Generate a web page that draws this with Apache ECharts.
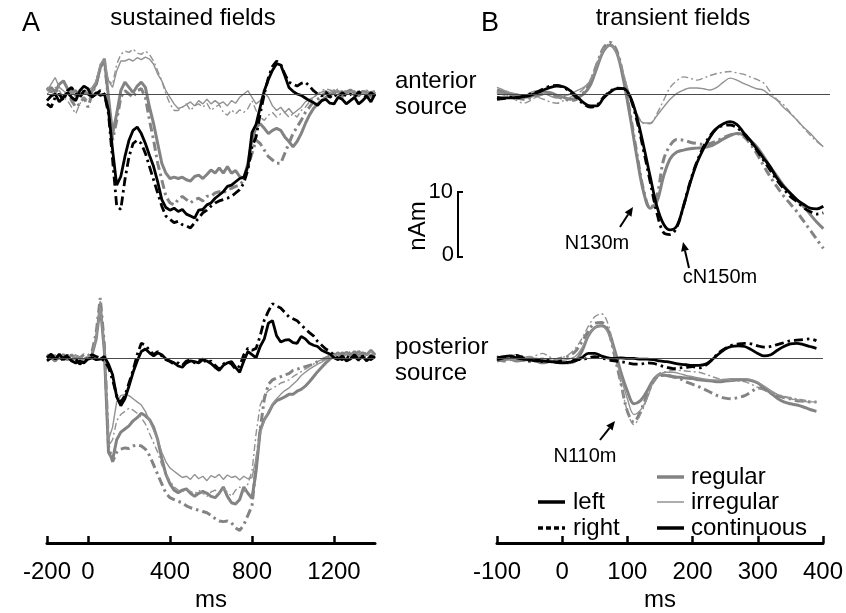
<!DOCTYPE html>
<html>
<head>
<meta charset="utf-8">
<script src="https://cdn.jsdelivr.net/npm/echarts@6/dist/echarts.min.js"></script>
<style>
html, body { margin: 0; padding: 0; background: #fff; }
#main { width: 846px; height: 613px; }
</style>
</head>
<body>
<div id="main"></div>
<script>
// time bases (ms)
var timeA = [-200,-180,-160,-140,-120,-100,-80,-60,-40,-20,
	0,20,40,60,80,100,120,140,160,180,
	200,220,240,260,280,300,320,340,360,380,
	400,420,440,460,480,500,520,540,560,580,
	600,620,640,660,680,700,720,740,760,780,
	800,820,840,860,880,900,920,940,960,980,
	1000,1020,1040,1060,1080,1100,1120,1140,1160,1180,
	1200,1220,1240,1260,1280,1300,1320,1340,1360,1380,1400];
var timeB = [-100,-90,-80,-70,-60,-50,-40,-30,-20,-10,
	0,10,20,30,40,50,60,70,80,90,
	100,110,120,130,140,150,160,170,180,190,
	200,210,220,230,240,250,260,270,280,290,
	300,310,320,330,340,350,360,370,380,390];

// A: sustained fields, anterior source (nAm)
var antRegL = [0.5,1,0.3,1.5,2,0.8,0.2,0.5,-0.3,0.2,
	0,0.5,1.5,4,5.3,-0.5,-6,-3,0.5,1.8,
	1,0.2,1.2,1.8,1,-2,-4.5,-7.5,-10.5,-12,
	-12.8,-12.6,-12.8,-12.6,-13,-13.2,-12.5,-12.3,-12.8,-12.2,
	-11.5,-12,-11.2,-12,-11,-12,-11.6,-12.5,-12.8,-10.5,
	-7,-5,-4.5,-5.2,-6,-5.5,-5.2,-5.5,-6.5,-7.2,
	-8,-7.2,-6,-4.5,-3.2,-2.2,-1.5,-1,-0.5,-0.2,
	0.2,0.4,-0.2,0.3,0.6,0.2,-0.3,0.4,0.2,-0.4,0.3];
var antRegR = [1,0.3,0.8,0,-0.5,0.5,-1,-2,-1.5,-0.5,
	-2,0,1.5,4,5,-1,-7,-4,-0.5,0.5,
	0,-0.5,0.5,0.8,-0.5,-4,-7,-10.5,-13,-15.5,
	-16.5,-16.8,-16,-15.5,-16,-16.5,-16,-15.8,-16.2,-15.5,
	-15.5,-15,-14.8,-15,-14.5,-14.3,-14,-13.8,-13,-11,
	-9,-7,-7.5,-8.5,-9.5,-10,-10.5,-10.5,-9,-7.5,
	-6,-5,-4,-2.8,-2,-1.2,-0.8,-0.3,0.2,0,
	0.5,0,-0.4,0.3,0.5,-0.2,0.3,0.6,-0.3,0.2,0.4];
var antIrrL = [0.5,1.5,2.5,1,0.5,0,0.5,-0.5,0,0.3,
	0.5,1,2,4.5,5.2,2,1,3.5,5,5,
	5.3,5,5.5,5.2,5.6,5.3,4.5,3,2,0.5,
	-0.5,-1.5,-2.2,-2,-1.6,-1.2,-1.8,-1,-1.5,-0.8,
	-1.5,-1,-1.5,-1.2,-1.8,-1,-1.4,-0.5,0,0.5,
	-0.5,-1.5,-1,0.2,-0.5,-1.8,-2.5,-2,-2.8,-2.2,
	-3,-2.5,-2,-1.2,-0.8,-0.5,0,0.3,0.5,0.2,
	0.6,0.2,0.5,0,0.3,0.5,-0.2,0.3,0,0.4,0.2];
var antIrrR = [0,0.5,1,0.5,-0.5,-1,-2,-3,-1.5,-0.5,
	-1,0,2,4.5,5.5,2,1.5,4.5,6,6.5,
	6.3,6.8,6.2,6,6.5,6,5,3.5,2,0,
	-1.5,-2.5,-2.5,-2,-1.5,-2.5,-1.8,-1.5,-2,-1.4,
	-2.5,-2,-1.6,-2.8,-3.2,-2.4,-3,-2.4,-2.8,-2.2,
	-1,-2.5,-3.5,-4,-3.2,-2.8,-3.5,-3,-2.8,-3.5,
	-3,-3.5,-2.5,-2,-1.2,-0.6,0,0.5,0.8,0.6,
	0.4,0.8,0.2,0.6,0.3,0,0.5,0.2,0.6,0,0.3];
var antConL = [-1,-0.3,0,-1.2,-0.5,0.2,-0.5,-1,0.5,1.2,
	0.8,-0.5,0.2,-0.2,0,-2.5,-8.5,-13.8,-12.5,-9.5,
	-7,-5.5,-5,-6,-7.5,-9.3,-11,-13.3,-16,-17.2,
	-17.6,-17.3,-17.8,-17.5,-18.2,-18.5,-18.8,-17.6,-17.5,-16.8,
	-16.5,-15.8,-15.3,-14.8,-14,-13.8,-13.3,-12.8,-12.6,-11,
	-5.8,-4.6,-2,0.5,2.2,3.6,4.6,4.4,2.8,1,
	0.4,0,-0.2,-0.6,-1,-1.3,-1.7,-1,-0.8,-1.4,
	-1.5,-0.5,-0.8,-1.5,-1,-0.5,-1.5,-1,-0.3,-1.2,0];
var antConR = [-1.5,-2,-0.5,0,-1,0.5,1,0,-0.5,0.5,
	0,-0.5,0,0.5,0,-3,-10,-17,-17.5,-13,
	-9.5,-7.5,-7,-7.5,-9,-11,-13,-15,-17,-18.5,
	-19,-19.5,-19.3,-19.8,-20,-20.3,-19.5,-18.8,-18,-17.6,
	-17,-16.5,-16.2,-16,-15.8,-15.5,-15,-14.5,-13.5,-11.5,
	-8,-6.5,-3,0,2.5,4.2,5,4.5,3,1.8,
	1.5,1.2,1.6,1.8,1.2,0.5,0,-0.3,0.3,-0.5,
	0,-0.5,0.2,-0.3,0,-0.5,0.3,0,-0.5,0.2,-0.3];

// A: sustained fields, posterior source (nAm)
var posRegL = [0.5,0,-0.5,0.3,0,-0.3,0.5,-0.2,0,-0.3,
	0,0.5,3,8.3,1,-15,-16.2,-13,-11.8,-11.3,
	-10.8,-10,-9.5,-8.8,-9.2,-9.8,-11,-13,-16,-18.5,
	-20,-21,-21.4,-21,-20.8,-21.5,-22,-21.5,-21.2,-21.5,
	-22,-22.2,-21.5,-20.5,-22,-23,-23.2,-22.5,-20.5,-21.5,
	-22.3,-18,-11.5,-9.8,-8.8,-7.5,-6.8,-6.5,-6.2,-5.8,
	-5.8,-5.3,-5,-4.5,-3.8,-3,-2.2,-1.5,-0.8,-0.2,
	0.3,0.8,0.2,0.9,0.4,1,0.3,0.8,0.5,1.2,0.5];
var posRegR = [0,0.5,-0.3,0,0.5,0,-0.5,0.3,0,0.5,
	0.3,1,4,9.5,2,-14,-16.5,-15,-14.5,-14.3,
	-14.4,-14,-13.8,-14,-14.5,-15.5,-17,-18.5,-20,-21.5,
	-22.2,-22.5,-22.8,-23,-23.5,-23.8,-24,-24.2,-24.4,-24.6,
	-25,-25.5,-25.9,-26,-25.9,-26.2,-27,-27.4,-26.5,-25,
	-23.5,-17,-11.4,-6.5,-4.2,-3.5,-3.2,-3,-2.7,-2.5,
	-2,-1.8,-1.6,-1.4,-1.2,-1,-0.6,-0.3,0,0.3,
	0.6,0.2,0.8,0.3,0.9,0.4,1,0.5,0.8,0.3,0.7];
var posIrrL = [0.3,0,0.5,-0.2,0.2,0,-0.3,0.4,0.2,-0.5,
	0,0.5,3,8,1,-13,-11,-7,-6,-5.8,
	-6,-6.5,-7,-7.5,-8.5,-10,-11.5,-13,-15,-16.5,
	-17.5,-18,-18.5,-19,-18.8,-19.3,-18.5,-19.2,-18.8,-19.5,
	-18.7,-19,-18.5,-19.3,-18.6,-19,-18.8,-19.4,-18.8,-19.2,
	-19,-16,-12,-10,-8.5,-7.3,-6.5,-5.8,-5.2,-4.8,
	-4.2,-3.6,-2.8,-2.3,-1.8,-1.4,-1,-0.7,-0.3,0,
	0.3,0.6,0.1,0.7,0.2,0.8,0.2,0.6,0.4,1,0.3];
var posIrrR = [0,0.3,0,-0.4,0.3,0.2,0,0.5,-0.3,0,
	0.2,0.6,3.5,9,2,-14,-13,-10,-9,-8.5,
	-8,-8.3,-8.8,-9.5,-10.5,-12,-13.5,-15,-17,-18.5,
	-19.5,-20.5,-21,-21.3,-20.8,-21.2,-21.6,-21,-21.5,-22,
	-21.3,-21,-21.5,-20.8,-21.3,-22,-21,-20.5,-21.3,-20,
	-18,-12,-7.5,-6,-5.2,-4.8,-4.5,-4,-3.8,-3.5,
	-3,-2.6,-2.2,-1.8,-1.4,-1,-0.6,-0.3,0,0.4,
	0.2,0.6,0,0.5,0.2,0.7,0.3,0.5,0,0.4,0.2];
var posConL = [0,0.6,-0.2,0.6,-0.3,0.2,-0.5,-0.8,-0.5,-0.8,
	-0.2,0,-0.3,-0.2,0.2,-1,-2.7,-6.2,-7.6,-6.5,
	-4.5,-2.3,-0.5,1,1.4,0.8,0.3,0.8,0.5,-0.2,
	-0.5,-0.8,-1.3,-1.5,-0.8,-0.5,-0.6,-0.8,-0.3,-0.5,
	-0.9,-1.5,-2,-1.2,-0.8,-0.6,-1.5,-2.3,-0.5,1,
	0.5,0,1.8,3,5.5,5.9,3.5,2.5,2.8,2.9,
	2.4,2.3,3.4,3,2.3,2,1.8,1.2,0.9,0.6,
	0,-0.3,0.3,-0.5,-0.2,0.5,-0.3,0.2,-0.5,0.3,0];
var posConR = [-0.5,0,0.5,-0.5,0,0.4,-0.4,-0.2,-1,-0.5,
	0,0.5,0.2,0,-0.5,-1.5,-3.5,-6,-7,-6,
	-4,-2,0.5,2.3,2,1.2,0.5,1,0.3,-0.3,
	-0.6,-1,-0.8,-1.2,-0.5,-0.3,-0.8,-0.5,-0.2,-0.8,
	-0.5,-1.2,-1.8,-1,-0.6,-1,-1.8,-1.3,0.5,1.5,
	1.2,1.5,3.5,6,7.4,8.6,8.2,7.9,7.2,6.5,
	6.2,5.9,5.2,4.6,4,3.5,2.6,2,1.4,1,
	0.4,0,-0.3,0.3,-0.2,0.2,-0.4,0.3,0,-0.3,0.2];

// B: transient fields, anterior source (nAm)
var bAntRegL = [0.6,0.3,0,-0.3,-0.5,-0.4,0,0.3,0.2,-0.2,
	-0.5,-0.8,-0.6,0,1.3,4,6.5,7.4,6.2,2.1,
	-3.5,-9.5,-14.8,-17.3,-16.3,-12.5,-9.8,-8.8,-8.5,-8.3,
	-8.2,-8.1,-7.9,-7.4,-6.8,-6.3,-6,-6.2,-7,-8,
	-9.4,-11,-12.4,-13.8,-15,-16,-17,-18.2,-19.4,-20.4];
var bAntRegR = [0.3,0,-0.3,-0.6,-0.8,-0.6,-0.3,0,0,-0.4,
	-0.7,-1,-0.8,0.2,1.8,4.5,7,7.8,6.5,2.5,
	-3,-9,-14.5,-17.3,-15.5,-10,-7.8,-6.9,-7,-7.3,
	-7.5,-7.6,-7.5,-7.1,-6.6,-6.2,-6,-6.4,-7.5,-9,
	-10.8,-12.5,-14,-15.4,-16.6,-17.8,-19.2,-20.6,-22,-23.4];
var bAntIrrL = [1,0.6,0.2,0,-0.3,0.2,0.5,0.2,-0.3,-0.6,
	-0.3,0,0.5,1,2,4.2,6.6,7.3,6,3,
	-0.5,-3,-4.4,-4.4,-3.3,-2,-0.8,0.1,0.6,0.9,
	0.9,0.8,0.6,1,1.8,2.4,2.1,1.6,1.2,0.8,
	0.6,-0.2,-0.9,-2,-2.9,-3.9,-5,-5.9,-7,-8];
var bAntIrrR = [0.3,0,-0.5,-1,-1.4,-1,-0.5,-0.8,-1.2,-1.4,
	-1,-0.5,0,0.8,2.2,4.8,7,7.6,6.3,3,
	-0.5,-3,-4.4,-4.5,-3,-1,1,2,2.6,2.4,
	2.1,2.4,2.8,3.1,3.3,3.4,3.2,3,2.6,2.2,
	1.7,0.4,-0.8,-1.6,-2.8,-3.9,-5.1,-6.2,-7.2,-8];
var bAntConL = [-0.5,-0.6,-0.6,-0.5,-0.4,-0.2,0.2,0.6,1,1.2,
	1.1,0.5,-0.4,-1.3,-1.8,-1.8,-0.6,0.3,0.8,0.8,
	-0.4,-3.5,-7.8,-12.5,-17,-19.7,-20.6,-20,-17,-13.5,
	-10.5,-8.3,-6.5,-5.2,-4.5,-4.2,-4.6,-5.8,-7,-8.3,
	-9.7,-11,-12.7,-14,-15,-16,-16.7,-17.3,-17.4,-17];
var bAntConR = [-0.8,-0.7,-0.5,-0.6,-0.3,0,0.3,0.8,1.2,1.3,
	1,0.3,-0.6,-1.5,-2,-1.7,-0.5,0.4,0.9,0.8,
	-0.6,-4,-8.5,-13.3,-18,-21,-21.3,-20.2,-17,-13.3,
	-10.3,-8,-6.3,-5.2,-4.8,-4.7,-5.1,-6,-7.2,-8.5,
	-10,-11.5,-13,-14.3,-15.5,-16.3,-17.2,-17.8,-18.2,-18];

// B: transient fields, posterior source (nAm)
var bPosRegL = [-0.5,-0.3,-0.2,-0.5,-0.4,-0.2,-0.5,-0.8,-0.6,-0.5,
	-0.6,-0.8,-0.5,1,3.5,4.8,5.1,4.4,1.4,-2.3,
	-5.3,-7.3,-6.8,-5.3,-3.5,-2.7,-2.8,-3,-3.1,-3.2,
	-3.3,-3.5,-3.6,-3.7,-3.8,-3.7,-3.6,-3.5,-3.5,-3.6,
	-4,-4.8,-5.6,-6.4,-7,-7.3,-7.5,-7.8,-8.2,-8.5];
var bPosRegR = [-0.2,-0.5,-0.3,0,-0.3,-0.6,-0.4,-0.2,-0.5,-0.3,
	0,0.3,1,2.5,4.2,5.5,5.6,4.5,0.5,-4,
	-8.5,-10.2,-8.5,-6,-3.8,-2.8,-2.8,-3,-3.3,-3.8,
	-4.2,-4.6,-5.1,-5.6,-6.1,-6.4,-6.5,-6.3,-6,-5.4,
	-4.8,-5,-5.6,-6,-6.3,-6.5,-6.8,-6.9,-7,-7];
var bPosIrrL = [0,0.2,-0.2,-0.3,0,0.2,-0.2,-0.4,-0.3,-0.6,
	-0.4,-0.2,0.2,1.5,3.6,4.8,5,4,0.8,-3,
	-6.5,-9,-8.3,-6.5,-3.8,-2.6,-2.3,-2.3,-2.5,-2.8,
	-3,-3.2,-3.4,-3.5,-3.5,-3.4,-3.3,-3.3,-3.3,-3.5,
	-3.9,-4.5,-5.2,-5.8,-6.2,-6.5,-6.7,-6.9,-7,-7];
var bPosIrrR = [0.3,0,0.3,0.5,0.3,0,0.4,0.7,0.2,-0.3,
	0,0.5,1.5,3,5,6.5,7,5.5,1,-4,
	-8.5,-10.6,-9,-6.5,-3.5,-2.4,-2.2,-2,-2,-2.1,
	-2.2,-2.3,-2.6,-3,-3.3,-3.5,-3.6,-3.7,-3.8,-4.2,
	-4.7,-5.2,-5.5,-5.8,-6.1,-6.3,-6.5,-6.7,-6.9,-7];
var bPosConL = [0,0.2,0.3,0,-0.2,-0.3,-0.5,-0.5,-0.6,-0.7,
	-0.8,-0.7,-0.5,0,0.7,0.7,0.3,0,-0.1,0,
	-0.1,-0.1,-0.2,-0.2,-0.3,-0.5,-0.6,-0.8,-1,-1.1,
	-1.2,-1.2,-1,-0.3,0.6,1.4,1.8,1.9,1.8,1.3,
	0.7,0.3,0.5,1.2,1.8,2.2,2.3,2.1,1.8,1.5];
var bPosConR = [-0.3,0,0.2,0.4,0,-0.4,-0.2,-0.6,-0.4,-0.7,
	-0.5,-0.8,-0.3,-0.3,0,0.2,0,-0.3,-0.5,-0.6,
	-0.8,-1,-1,-0.8,-0.9,-1.2,-1.5,-1.7,-1.6,-1.5,
	-1.4,-1.6,-1.2,-0.3,0.8,1.5,2,2.2,2.3,2.2,
	1.9,1.7,1.8,2.1,2.4,2.7,2.8,2.9,3,2.7];

var ticksA = [-200, 0, 400, 800, 1200];

// layout: px per nAm and zero line positions
var K = 6.6;
var TOP = { top: 34, bottom: 250, zero: 94 };
var BOT = { top: 270, bottom: 556, zero: 362 };
var FONT = 'Liberation Sans, Arial, Helvetica, sans-serif';

var chart = echarts.init(document.getElementById('main'), null, { renderer: 'canvas' });

var styles = {
	regL: { color: '#838383', width: 3 },
	regR: { color: '#838383', width: 3, type: [9, 4, 2.5, 4] },
	irrL: { color: '#929292', width: 1.4 },
	irrR: { color: '#929292', width: 1.4, type: [7, 3, 2, 3] },
	conL: { color: '#000', width: 2.8 },
	conR: { color: '#000', width: 2.8, type: [9, 4, 2.5, 4] }
};

function yAx(idx, box) {
	return {
		gridIndex: idx, type: 'value', show: false,
		min: -(box.bottom - box.zero) / K, max: (box.zero - box.top) / K
	};
}

function mk(grid, t, v, st, smooth) {
	return {
		type: 'line', xAxisIndex: grid, yAxisIndex: grid,
		data: t.map(function (x, i) { return [x, v[i]]; }),
		symbol: 'none', smooth: smooth ? 0.35 : false, silent: true,
		lineStyle: { color: st.color, width: st.width, type: st.type || 'solid', cap: 'butt' }
	};
}

function zeroLine(s) {
	s.markLine = {
		silent: true, symbol: 'none', label: { show: false },
		lineStyle: { color: '#4a4a4a', width: 1, type: 'solid' },
		data: [{ yAxis: 0 }]
	};
	return s;
}

var series = [];
function panel(grid, t, d, smooth) {
	series.push(zeroLine(mk(grid, t, d[0], styles.regL, smooth)));
	series.push(mk(grid, t, d[1], styles.regR, smooth));
	series.push(mk(grid, t, d[2], styles.irrL, smooth));
	series.push(mk(grid, t, d[3], styles.irrR, smooth));
	series.push(mk(grid, t, d[4], styles.conL, smooth));
	series.push(mk(grid, t, d[5], styles.conR, smooth));
}
panel(0, timeA, [antRegL, antRegR, antIrrL, antIrrR, antConL, antConR], false);
panel(1, timeA, [posRegL, posRegR, posIrrL, posIrrR, posConL, posConR], false);
panel(2, timeB, [bAntRegL, bAntRegR, bAntIrrL, bAntIrrR, bAntConL, bAntConR], true);
panel(3, timeB, [bPosRegL, bPosRegR, bPosIrrL, bPosIrrR, bPosConL, bPosConR], true);

var axisFont = { fontSize: 24, color: '#000', fontFamily: FONT };
function shownX(idx, min, max, extra) {
	var ax = {
		gridIndex: idx, type: 'value', min: min, max: max,
		axisLine: { show: true, onZero: false, lineStyle: { color: '#000', width: 3 } },
		axisTick: { show: true, inside: true, length: 7, lineStyle: { color: '#000', width: 2.5 } },
		axisLabel: { show: true, margin: 17, fontSize: 24, color: '#000', fontFamily: FONT,
			showMinLabel: true, showMaxLabel: true,
			formatter: function (v) { return String(v); } },
		splitLine: { show: false },
		name: 'ms', nameLocation: 'middle', nameGap: 45, nameTextStyle: axisFont
	};
	for (var k in extra) {
		for (var j in extra[k]) ax[k][j] = extra[k][j];
	}
	return ax;
}

function txt(x, y, s, size, align, vAlign) {
	return {
		type: 'text', x: x, y: y, silent: true,
		style: {
			text: s, font: size + 'px ' + FONT, fill: '#000',
			align: align || 'left', verticalAlign: vAlign || 'middle',
			textAlign: align || 'left', textVerticalAlign: vAlign || 'middle'
		}
	};
}
function seg(x1, y1, x2, y2, w, color, dash) {
	return {
		type: 'line', silent: true,
		shape: { x1: x1, y1: y1, x2: x2, y2: y2 },
		style: { stroke: color || '#000', lineWidth: w, lineDash: dash || null }
	};
}
function arrow(x1, y1, x2, y2) {
	var a = Math.atan2(y2 - y1, x2 - x1), L = 9, W = 4;
	var bx = x2 - L * Math.cos(a), by = y2 - L * Math.sin(a);
	return [
		seg(x1, y1, bx, by, 2),
		{ type: 'polygon', silent: true, shape: { points: [[x2, y2],
			[bx - W * Math.sin(a), by + W * Math.cos(a)],
			[bx + W * Math.sin(a), by - W * Math.cos(a)]] }, style: { fill: '#000' } }
	];
}

var graphics = [
	txt(22, 24, 'A', 27),
	txt(193, 18, 'sustained fields', 24, 'center'),
	txt(481, 24, 'B', 27),
	txt(673, 18, 'transient fields', 24, 'center'),
	txt(395, 81, 'anterior', 24),
	txt(395, 107, 'source', 24),
	txt(395, 347, 'posterior', 24),
	txt(395, 373, 'source', 24),
	{ type: 'text', x: 418, y: 226, rotation: Math.PI / 2, silent: true,
		style: { text: 'nAm', font: '24px ' + FONT, fill: '#000', align: 'center', verticalAlign: 'middle',
			textAlign: 'center', textVerticalAlign: 'middle' } },
	txt(453, 192, '10', 22, 'right'),
	txt(454, 255, '0', 22, 'right'),
	seg(458, 192, 458, 257, 2),
	seg(457, 192, 463, 192, 2),
	seg(457, 257, 463, 257, 2),
	txt(597, 243, 'N130m', 20, 'center'),
	txt(720, 277, 'cN150m', 20, 'center'),
	txt(585, 456, 'N110m', 20, 'center'),
	// legend
	seg(657, 477, 684, 477, 3.5, '#838383'),
	txt(691, 477, 'regular', 24),
	seg(657, 502, 684, 502, 1.5, '#929292'),
	txt(691, 502, 'irregular', 24),
	seg(657, 528, 684, 528, 3.5, '#000'),
	txt(691, 528, 'continuous', 24),
	seg(538, 502, 565, 502, 3.5, '#000'),
	txt(573, 502, 'left', 24),
	seg(538, 528, 565, 528, 3.5, '#000', [5, 3]),
	txt(573, 528, 'right', 24)
].concat(arrow(620, 227, 633, 207), arrow(689, 268, 683, 242), arrow(600, 440, 615, 421));

chart.setOption({
	animation: false,
	backgroundColor: '#fff',
	grid: [
		{ left: 47, top: TOP.top, width: 328, height: TOP.bottom - TOP.top },
		{ left: 47, top: BOT.top, width: 328, height: BOT.bottom - BOT.top },
		{ left: 497, top: TOP.top, width: 333, height: TOP.bottom - TOP.top },
		{ left: 497, top: BOT.top, width: 333, height: BOT.bottom - BOT.top }
	],
	xAxis: [
		{ gridIndex: 0, type: 'value', min: -200, max: 1400, show: false },
		shownX(1, -200, 1400, { axisTick: { customValues: ticksA }, axisLabel: { customValues: ticksA } }),
		{ gridIndex: 2, type: 'value', min: -100, max: 400, show: false },
		shownX(3, -100, 400, { axisLabel: {} })
	],
	yAxis: [yAx(0, TOP), yAx(1, BOT), yAx(2, TOP), yAx(3, BOT)],
	series: series,
	graphic: graphics
});
</script>
</body>
</html>
